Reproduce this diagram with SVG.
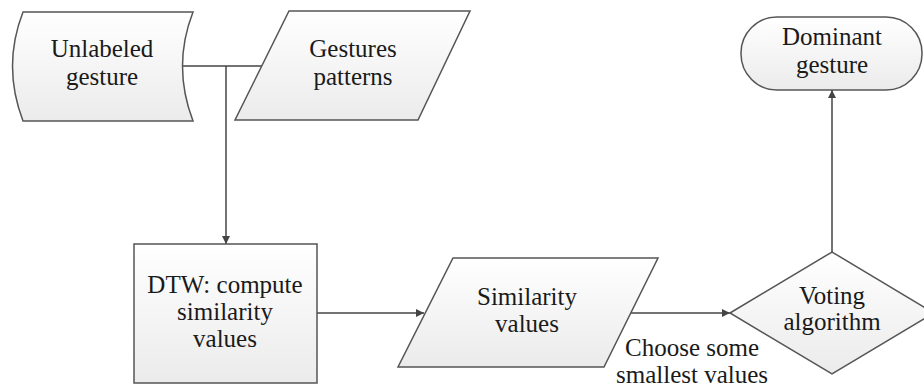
<svg xmlns="http://www.w3.org/2000/svg" width="924" height="387" viewBox="0 0 924 387">
<defs>
<linearGradient id="g" x1="0" y1="0" x2="0" y2="1">
<stop offset="0" stop-color="#ffffff"/>
<stop offset="1" stop-color="#ebebeb"/>
</linearGradient>
<marker id="arr" viewBox="0 0 10 10" refX="10" refY="5" markerWidth="8" markerHeight="8" markerUnits="userSpaceOnUse" orient="auto">
<path d="M0,0 L10,5 L0,10 z" fill="#444"/>
</marker>
</defs>
<style>
.shape{fill:url(#g);stroke:#555;stroke-width:1.5}
.t{font-size:25px;fill:#1a1a1a;text-anchor:middle}
.c{fill:none;stroke:#444;stroke-width:1.5}
</style>
<rect width="924" height="387" fill="#fff"/>
<g font-family="'Liberation Serif', 'DejaVu Serif', 'Times New Roman', serif">
<g id="connectors">
<line class="c" x1="180" y1="66" x2="262" y2="66"/>
<line class="c" x1="226" y1="66" x2="226" y2="244" marker-end="url(#arr)"/>
<line class="c" x1="317" y1="313" x2="424" y2="313" marker-end="url(#arr)"/>
<line class="c" x1="631" y1="313" x2="730" y2="313" marker-end="url(#arr)"/>
<line class="c" x1="832" y1="252" x2="832" y2="90" marker-end="url(#arr)"/>
<text class="t" x="692" y="356">Choose some</text>
<text class="t" x="692" y="383">smallest values</text>
</g>
<g id="unlabeled">
<path class="shape" d="M23,12 L193,12 Q172,66 193,121 L23,121 Q2,66 23,12 Z"/>
<text class="t" x="102" y="57">Unlabeled</text>
<text class="t" x="102" y="85">gesture</text>
</g>
<g id="patterns">
<path class="shape" d="M289,11 L470,11 L418,120 L235,120 Z"/>
<text class="t" x="353" y="57">Gestures</text>
<text class="t" x="353" y="85">patterns</text>
</g>
<g id="dominant">
<rect class="shape" x="741" y="17" width="181" height="73" rx="36" ry="36"/>
<text class="t" x="832" y="45">Dominant</text>
<text class="t" x="832" y="73">gesture</text>
</g>
<g id="dtw">
<rect class="shape" x="134" y="244" width="183" height="139"/>
<text class="t" x="225" y="293">DTW: compute</text>
<text class="t" x="225" y="320">similarity</text>
<text class="t" x="225" y="347">values</text>
</g>
<g id="similarity">
<path class="shape" d="M453,258 L658,258 L604,367 L398,367 Z"/>
<text class="t" x="527" y="305">Similarity</text>
<text class="t" x="527" y="332">values</text>
</g>
<g id="voting">
<path class="shape" d="M730,313 L832,252 L934,313 L832,374 Z"/>
<text class="t" x="832" y="304">Voting</text>
<text class="t" x="832" y="330">algorithm</text>
</g>
</g>
</svg>
